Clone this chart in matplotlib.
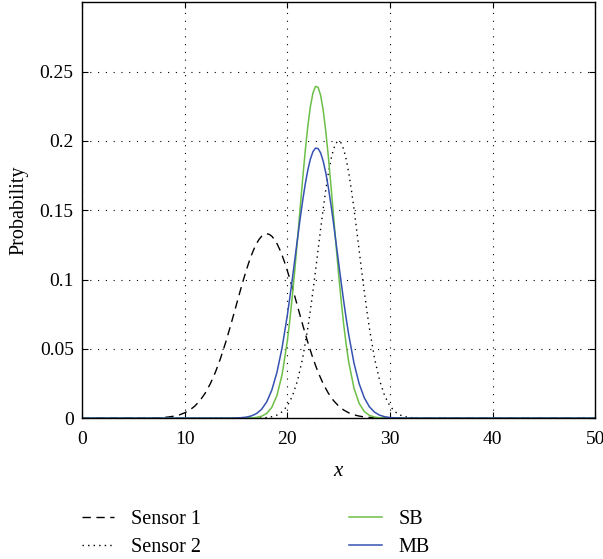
import numpy as np
import matplotlib.pyplot as plt

plt.rcParams['font.family'] = ['Liberation Serif', 'DejaVu Serif']
plt.rcParams['mathtext.fontset'] = 'custom'
plt.rcParams['mathtext.it'] = 'Liberation Serif:italic'

# coarse x grid: 0, 7.0 ... 33.0 (step 0.5), 50
x_vals = [0.0] + [7.0 + 0.5 * i for i in range(53)] + [50.0]

sensor1 = [0,
           0.00016, 0.00029, 0.00051, 0.00088, 0.00148, 0.00240, 0.00380, 0.00584,
           0.00874, 0.01272, 0.01800, 0.02477, 0.03316, 0.04318, 0.05468, 0.06734,
           0.08067, 0.09398, 0.10650, 0.11737, 0.12581, 0.13117, 0.13300,
           0.13117, 0.12581, 0.11737, 0.10650, 0.09398, 0.08067, 0.06734, 0.05468,
           0.04318, 0.03316, 0.02477, 0.01800, 0.01272, 0.00874, 0.00584, 0.00380,
           0.00240, 0.00148, 0.00088, 0.00051, 0.00029, 0.00016, 0.00009, 0.00004,
           0.00002, 0.00001, 0, 0, 0, 0,
           0]

sensor2 = [0,
           0, 0, 0, 0, 0, 0, 0, 0, 0, 0, 0, 0, 0, 0, 0, 0, 0, 0,
           0.00001, 0.00002, 0.00007, 0.00018, 0.00044, 0.00102, 0.00222, 0.00456,
           0.00879, 0.01591, 0.02707, 0.04325, 0.06493, 0.09157, 0.12131, 0.15097,
           0.17650, 0.19385, 0.20000, 0.19385, 0.17650, 0.15097, 0.12131, 0.09157,
           0.06493, 0.04325, 0.02707, 0.01591, 0.00879, 0.00456, 0.00222, 0.00102,
           0.00044, 0.00018, 0.00007,
           0]

sb = [0,
      0, 0, 0, 0, 0, 0, 0, 0, 0, 0, 0, 0, 0, 0, 0, 0, 0, 0,
      0.00005, 0.00016, 0.00050, 0.00137, 0.00343, 0.00786, 0.01649, 0.03160,
      0.05530, 0.08843, 0.12920, 0.17249, 0.21038, 0.23446, 0.23873, 0.22209,
      0.18878, 0.14661, 0.10403, 0.06744, 0.03995, 0.02162, 0.01069, 0.00483,
      0.00199, 0.00075, 0.00026, 0.00008, 0.00002,
      0, 0, 0, 0, 0, 0,
      0]

mb = [0,
      0, 0, 0, 0, 0, 0, 0, 0, 0, 0, 0, 0, 0, 0, 0, 0,
      0.00012, 0.00031, 0.00072, 0.00158, 0.00327, 0.00639, 0.01174, 0.02035,
      0.03321, 0.05103, 0.07391, 0.10082, 0.12957, 0.15685, 0.17888, 0.19217,
      0.19448, 0.18540, 0.16650, 0.14086, 0.11227, 0.08428, 0.05961, 0.03972,
      0.02492, 0.01473, 0.00821, 0.00431, 0.00213, 0.00099, 0.00043, 0.00018,
      0.00007,
      0, 0, 0, 0,
      0]

# extra readings around the peaks (quarter steps)
sensor1_fx = [15.25, 15.75, 16.25, 16.75, 17.25, 17.75, 18.25, 18.75, 19.25, 19.75, 20.25, 20.75]
sensor1_fy = [0.08737, 0.10039, 0.11219, 0.12194, 0.12891, 0.13254,
              0.13254, 0.12891, 0.12194, 0.11219, 0.10039, 0.08737]
sensor2_fx = [22.25, 22.75, 23.25, 23.75, 24.25, 24.75, 25.25, 25.75, 26.25, 26.75, 27.25, 27.75]
sensor2_fy = [0.07771, 0.10622, 0.13639, 0.16452, 0.18642, 0.19844,
              0.19844, 0.18642, 0.16452, 0.13639, 0.10622, 0.07771]
peak_fx = [20.25, 20.75, 21.25, 21.75, 22.25, 22.75, 23.25, 23.75, 24.25, 24.75, 25.25, 25.75]
sb_fy = [0.07072, 0.10811, 0.15098, 0.19265, 0.22461, 0.23927,
         0.23287, 0.20708, 0.16826, 0.12491, 0.08472, 0.05249]
mb_fy = [0.08697, 0.11516, 0.14362, 0.16876, 0.18679, 0.19477,
         0.19131, 0.17702, 0.15430, 0.12670, 0.09800, 0.07141]

x_ticks = [0, 10, 20, 30, 40, 50]
y_ticks = [0, 0.05, 0.1, 0.15, 0.2, 0.25]
y_ticklabels = ['0', '0.05', '0.1', '0.15', '0.2', '0.25']


def merge(xc, yc, xf, yf):
    pts = sorted(zip(list(xc) + list(xf), list(yc) + list(yf)))
    return [p[0] for p in pts], [p[1] for p in pts]


fig = plt.figure(figsize=(6.03, 5.59), dpi=100)
ax = fig.add_axes([0.136, 0.252, 0.851, 0.744])

xs, ys = merge(x_vals, sensor1, sensor1_fx, sensor1_fy)
ax.plot(xs, ys, color='black', lw=1.0, linestyle=(0, (6, 4)), label='Sensor 1')
xs, ys = merge(x_vals, sensor2, sensor2_fx, sensor2_fy)
ax.plot(xs, ys, color='black', lw=1.0, linestyle=(0, (1, 3)), label='Sensor 2')
xs, ys = merge(x_vals, sb, peak_fx, sb_fy)
ax.plot(xs, ys, color='#6cbf47', lw=1.1, label='SB')
xs, ys = merge(x_vals, mb, peak_fx, mb_fy)
ax.plot(xs, ys, color='#3552b0', lw=1.1, label='MB')

ax.set_xlim(0, 50)
ax.set_ylim(0, 0.3)
ax.set_xticks(x_ticks)
ax.set_yticks(y_ticks)
ax.set_yticklabels(y_ticklabels)
ax.tick_params(direction='in', labelsize=14, length=4, width=0.8, top=True, right=True)
ax.tick_params(axis='y', pad=6)
ax.tick_params(axis='x', pad=9)
ax.grid(True, color='black', linestyle=(0, (1, 6)), linewidth=0.8)
for s in ax.spines.values():
    s.set_linewidth(1.0)

ax.set_xlabel('$x$', fontsize=15, labelpad=10)
ax.set_ylabel('Probability', fontsize=14.5, labelpad=8)

fig.legend(loc='upper left', bbox_to_anchor=(0.136, 0.088), ncol=2, frameon=False,
           fontsize=14.5, handlelength=1.6, handletextpad=0.85, columnspacing=7.35,
           labelspacing=0.45, borderpad=0, borderaxespad=0)

fig.savefig('out.png', dpi=100)
